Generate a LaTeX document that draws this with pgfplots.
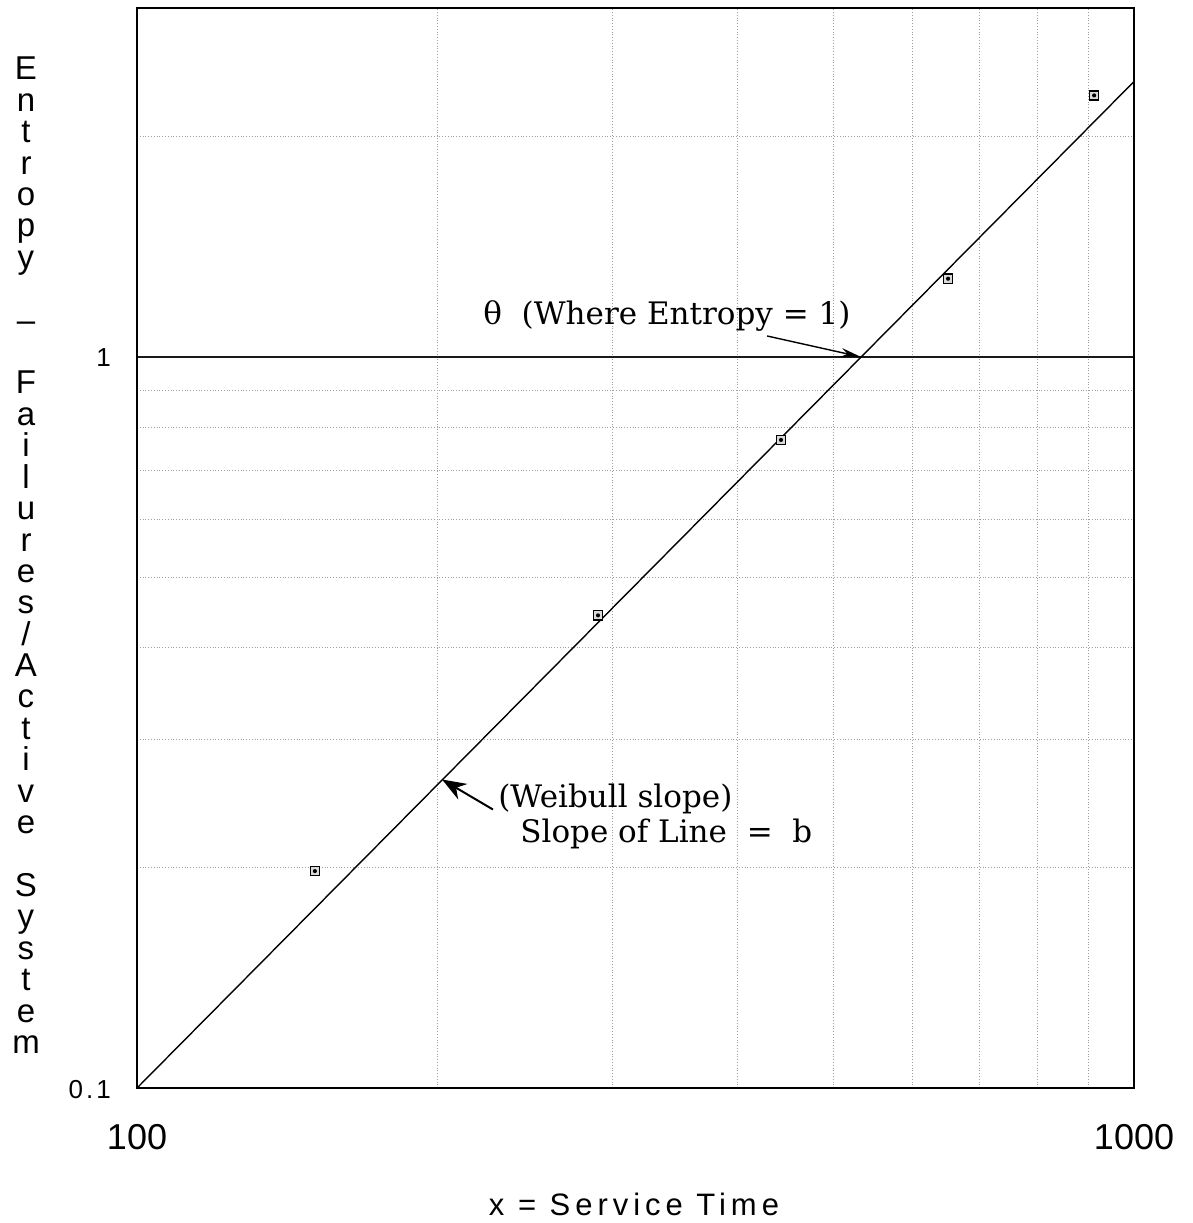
\documentclass[border=0pt]{standalone}
\usepackage{fontspec}
\setmainfont{Liberation Sans}
\newfontfamily\annfont{DejaVu Serif}
\usepackage{pgfplots}
\pgfplotsset{compat=1.18}
\usetikzlibrary{arrows.meta}

\pgfdeclareplotmark{sqdot}{%
  \pgfpathrectangle{\pgfpoint{-\pgfplotmarksize}{-\pgfplotmarksize}}{\pgfpoint{2\pgfplotmarksize}{2\pgfplotmarksize}}%
  \pgfsetfillcolor{black!15}\pgfusepathqfillstroke
  \pgfpathcircle{\pgfpointorigin}{0.45\pgfplotmarksize}%
  \pgfsetfillcolor{black}\pgfusepathqfill}

\begin{document}
\begin{tikzpicture}
\useasboundingbox (-68.5pt,-67.5pt) rectangle (528pt,544pt);
\begin{axis}[
  at={(0,0)}, anchor=south west,
  scale only axis, width=498.5pt, height=540pt,
  xmode=log, ymode=log,
  xmin=100, xmax=1000, ymin=0.1, ymax=3,
  xtick={100,1000}, xticklabels={100,1000},
  ytick={0.1,1}, yticklabels={0.1,1},
  minor xtick={200,300,400,500,600,700,800,900},
  minor ytick={0.2,0.3,0.4,0.5,0.6,0.7,0.8,0.9,2},
  major tick length=0pt, minor tick length=0pt,
  grid=both,
  minor grid style={densely dotted, gray!75, line width=0.45pt},
  major grid style={solid, black!90, line width=0.8pt},
  axis line style={line width=0.9pt},
  xticklabel style={font=\fontsize{18}{18}\selectfont, anchor=base, yshift=-30.5pt},
  yticklabel style={font=\fontsize{13}{13}\selectfont\addfontfeatures{LetterSpace=12}, anchor=base east, xshift=-9.5pt, yshift=-5pt},
  clip=false,
]
\addplot[black, line width=0.7pt, no marks] coordinates {(100,0.1) (1000,2.38)};
\addplot[only marks, mark=sqdot, mark size=2.3pt, mark options={black, line width=0.7pt}] coordinates {
  (150.8,0.198) (290.0,0.443) (442.5,0.770) (650.9,1.279) (912,2.278)};
\draw[black, line width=0.7pt, -{Stealth[length=10pt, width=4.5pt]}] (axis cs:428.5,1.068) -- (axis cs:532,1.0);
\draw[black, line width=1pt, -{Stealth[length=12pt, width=9pt]}] (axis cs:227.5,0.2404) -- (axis cs:202.3,0.2642);
\end{axis}
\node[anchor=base west, inner sep=0pt, font=\annfont\fontsize{15.5}{15.5}\selectfont] at (173pt,381.5pt) {θ\ \ (Where Entropy = 1)};
\node[anchor=base west, inner sep=0pt, font=\annfont\fontsize{15.5}{15.5}\selectfont] at (180.5pt,140.5pt) {(Weibull slope)};
\node[anchor=base west, inner sep=0pt, font=\annfont\fontsize{15.5}{15.5}\selectfont] at (191.5pt,123pt) {Slope of Line\ \ =\ \ b};
\node[anchor=base, inner sep=0pt, font=\fontsize{15.5}{15.5}\selectfont\addfontfeatures{LetterSpace=16}] at (248.5pt,-63.5pt) {x = Service Time};
\foreach \c [count=\i from 0] in {E,n,t,r,o,p,y,{},–,{},F,a,i,l,u,r,e,s,/,A,c,t,i,v,e,{},S,y,s,t,e,m}
  \node[anchor=base, inner sep=0pt, font=\fontsize{16.5}{16.5}\selectfont] at (-55.5pt,{504pt-\i*15.7pt}) {\c};
\end{tikzpicture}
\end{document}
